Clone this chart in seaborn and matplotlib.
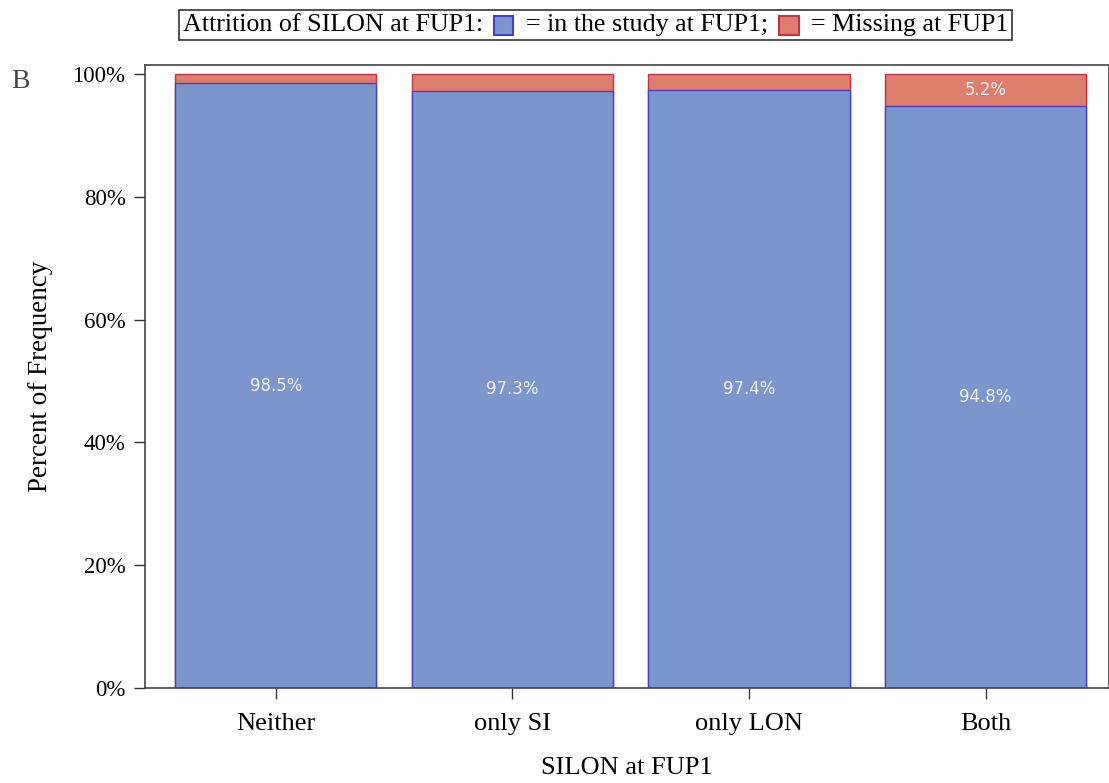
import matplotlib
matplotlib.use("Agg")
import matplotlib.pyplot as plt
import seaborn as sns
import pandas as pd
from matplotlib.patches import Rectangle
from matplotlib.offsetbox import TextArea, DrawingArea, HPacker, AnchoredOffsetbox

categories = ["Neither", "only SI", "only LON", "Both"]
in_study = [98.5, 97.3, 97.4, 94.8]
missing = [1.5, 2.7, 2.6, 5.2]
yticks = [0, 20, 40, 60, 80, 100]

blue_fill, blue_edge = "#7B96CC", "#3F3FD0"
red_fill, red_edge = "#DE7E6E", "#C8323C"

sns.set_theme(style="white")
plt.rcParams["font.family"] = ["Liberation Serif", "DejaVu Serif"]
plt.rcParams["text.color"] = "black"
plt.rcParams["axes.labelcolor"] = "black"
plt.rcParams["xtick.color"] = "black"
plt.rcParams["ytick.color"] = "black"

df = pd.DataFrame({"cat": categories, "in": in_study, "miss": missing})
df["total"] = df["in"] + df["miss"]

fig = plt.figure(figsize=(11.09, 7.83), dpi=100)
ax = fig.add_axes([0.1307, 0.1213, 0.869, 0.7957])

sns.barplot(data=df, x="cat", y="total", color=red_fill, width=0.85,
            edgecolor=red_edge, linewidth=1.0, saturation=1, ax=ax)
sns.barplot(data=df, x="cat", y="in", color=blue_fill, width=0.85,
            edgecolor=blue_edge, linewidth=1.0, saturation=1, ax=ax)

# labels
for i, (v, m) in enumerate(zip(in_study, missing)):
    ax.text(i, v / 2, f"{v:.1f}%", ha="center", va="center", color="#F2F2F2",
            fontsize=12, family="DejaVu Sans")
    if m >= 5:
        ax.text(i, v + m / 2, f"{m:.1f}%", ha="center", va="center",
                color="#F2F2F2", fontsize=12, family="DejaVu Sans")

ax.set_xlim(-0.553, 3.52)
ax.set_ylim(0, 101.5)
ax.set_yticks(yticks)
ax.set_yticklabels([f"{t}%" for t in yticks])
ax.tick_params(axis="both", which="both", direction="out", length=8, width=1,
               color="#333333", labelsize=16.5, left=True, bottom=True, pad=6)
ax.tick_params(axis="x", labelsize=19, pad=10)
ax.set_xlabel("SILON at FUP1", fontsize=19, labelpad=16)
ax.set_ylabel("Percent of Frequency", fontsize=19.5, labelpad=14)
for s in ax.spines.values():
    s.set_color("#444444")
    s.set_linewidth(1.2)

# legend box
def patch(fc, ec):
    da = DrawingArea(15, 15, 0, 0)
    da.add_artist(Rectangle((0, 0), 14, 14, facecolor=fc, edgecolor=ec, linewidth=1.5))
    return da

fp = dict(fontsize=18.7, family=["Liberation Serif"], color="black")
items = [TextArea("Attrition of SILON at FUP1:", textprops=fp),
         patch(blue_fill, blue_edge),
         TextArea("= in the study at FUP1;", textprops=fp),
         patch(red_fill, red_edge),
         TextArea("= Missing at FUP1", textprops=fp)]
box = HPacker(children=items, align="center", pad=0, sep=8)
anch = AnchoredOffsetbox(loc="center", child=box, pad=0.25, frameon=True,
                         bbox_to_anchor=(0.537, 0.968), bbox_transform=fig.transFigure,
                         borderpad=0)
anch.patch.set_edgecolor("#333333")
anch.patch.set_linewidth(1.2)
fig.add_artist(anch)

fig.text(20 / 1109, 1 - 82 / 783, "B", fontsize=20, family=["Liberation Serif"],
         color="#444444", ha="center", va="center")

fig.savefig("out.png", dpi=100)
